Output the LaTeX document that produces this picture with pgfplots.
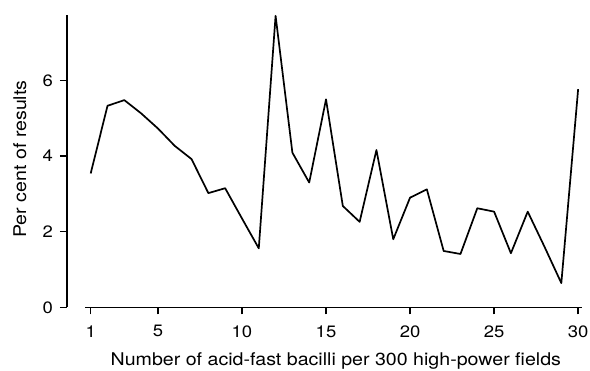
\documentclass[border=0pt]{standalone}
\usepackage{pgfplots}
\pgfplotsset{compat=1.18}
\usepackage{fontspec}
\setmainfont{TeX Gyre Heros}[FakeStretch=1.12]
\begin{document}
\begin{tikzpicture}
\useasboundingbox (-67bp,-63.7bp) rectangle (523bp,307.3bp);
\begin{axis}[
  scale only axis,
  width=515bp, height=293bp,
  xmin=-0.41, xmax=30.23, ymin=0, ymax=7.75,
  axis lines=left,
  axis line style={draw=none},
  xtick={1,5,10,15,20,25,30},
  ytick={0,2,4,6},
  tick align=outside,
  major tick length=7bp,
  tick style={black, line width=1.3bp},
  /pgf/number format/assume math mode=true,
  tick label style={font=\fontsize{16.5bp}{19bp}\selectfont},
  xticklabel style={anchor=north, inner sep=0pt, yshift=-11bp},
  yticklabel style={anchor=east, inner sep=0pt, xshift=-7bp},
  xlabel={Number of acid-fast bacilli per 300 high-power fields},
  ylabel={Per cent of results},
  label style={font=\fontsize{17.5bp}{20bp}\selectfont},
  xlabel style={at={(axis description cs:0.522,-0.2003)}, anchor=base, inner sep=0pt},
  ylabel style={at={(axis description cs:-0.0796,0.506)}, anchor=base, inner sep=0pt},
  clip=false,
]
\draw[line width=1.4bp] (axis cs:-0.41,0) -- (axis cs:-0.41,7.73);
\draw[line width=1.4bp] (axis cs:0.68,0) -- (axis cs:30.23,0);
\addplot[black, line width=1.7bp, mark=none, line join=round] coordinates {
(1,3.54) (2,5.33) (3,5.48) (4,5.13) (5,4.73) (6,4.27) (7,3.92) (8,3.02) (9,3.15) (10,2.35)
(11,1.56) (12,7.71) (13,4.09) (14,3.30) (15,5.50) (16,2.68) (17,2.26) (18,4.16) (19,1.80) (20,2.90)
(21,3.12) (22,1.49) (23,1.41) (24,2.62) (25,2.53) (26,1.43) (27,2.53) (28,1.60) (29,0.64) (30,5.77)
};
\end{axis}
\end{tikzpicture}
\end{document}
